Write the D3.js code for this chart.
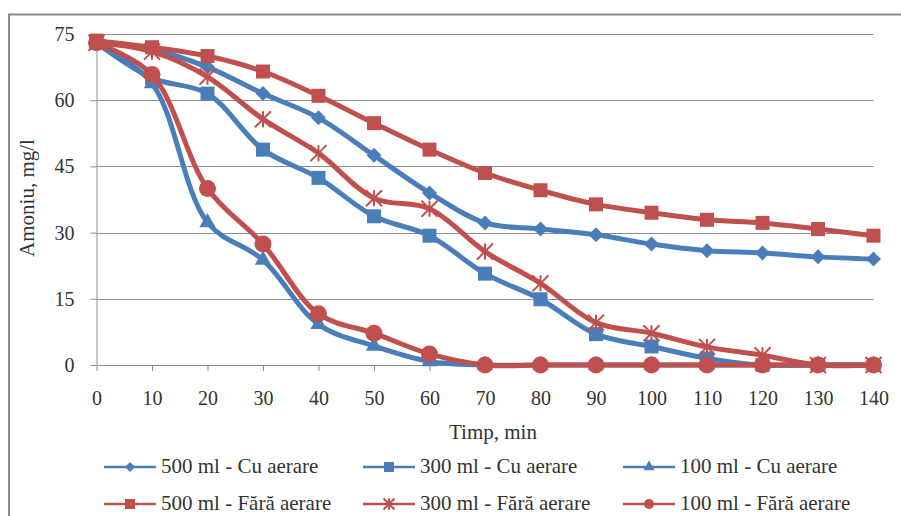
<!DOCTYPE html>
<html>
<head>
<meta charset="utf-8">
<script src="https://cdn.jsdelivr.net/npm/d3@7"></script>
<style>
  body { margin: 0; background: #fff; }
</style>
</head>
<body>
<div id="chart"></div>
<script>
// time in minutes (categories)
const times = [0, 10, 20, 30, 40, 50, 60, 70, 80, 90, 100, 110, 120, 130, 140]
const yTicks = [0, 15, 30, 45, 60, 75]

// amoniu, mg/l
const cu500   = [73, 71.5, 67.5, 61.5, 56, 47.5, 39, 32.2, 30.8, 29.5, 27.4, 25.9, 25.4, 24.5, 24]
const cu300   = [73, 65, 61.5, 48.8, 42.4, 33.7, 29.3, 20.7, 14.9, 7, 4.2, 1.5, 0, 0, 0]
const cu100   = [73, 63.8, 32.3, 23.8, 9.2, 4.3, 0.8, 0, 0, 0, 0, 0, 0, 0, 0]
const fara500 = [73.5, 72, 70, 66.5, 61, 54.8, 48.8, 43.5, 39.6, 36.4, 34.5, 32.9, 32.2, 30.8, 29.3]
const fara300 = [73, 71, 65.3, 55.7, 48, 37.8, 35.4, 25.7, 18.5, 9.6, 7.2, 4.1, 2.2, 0, 0]
const fara100 = [73, 65.8, 40, 27.4, 11.6, 7.2, 2.5, 0, 0, 0, 0, 0, 0, 0, 0]

const seriesNames = ["500 ml - Cu aerare", "300 ml - Cu aerare", "100 ml - Cu aerare",
                     "500 ml - Fără aerare", "300 ml - Fără aerare", "100 ml - Fără aerare"]
const seriesValues = [cu500, cu300, cu100, fara500, fara300, fara100]
const seriesMarkers = ["diamond", "square", "triangle", "square", "star", "circle"]

const blue = "#4a7ebb"
const red = "#c0504d"
const seriesColors = [blue, blue, blue, red, red, red]

const font = "'Liberation Serif', 'DejaVu Serif', serif"
const textColor = "#333"

const width = 901
const height = 516
const plotLeft = 96.5, plotRight = 873.5, plotTop = 34, plotBottom = 365

const svg = d3.select("#chart")
  .append("svg")
  .attr("width", width)
  .attr("height", height)

// outer chart border
svg.append("rect")
  .attr("x", 9).attr("y", 14.5)
  .attr("width", 905).attr("height", 520)
  .attr("fill", "none")
  .attr("stroke", "#8c8c8c")
  .attr("stroke-width", 2)

const xScale = d3.scaleLinear().domain([0, 140]).range([plotLeft, plotRight])
const yScale = d3.scaleLinear().domain([0, 75]).range([plotBottom, plotTop])

// horizontal gridlines
svg.append("g")
  .selectAll("line")
  .data(yTicks.filter(d => d > 0))
  .join("line")
  .attr("x1", plotLeft).attr("x2", plotRight)
  .attr("y1", d => Math.round(yScale(d)) + 0.5)
  .attr("y2", d => Math.round(yScale(d)) + 0.5)
  .attr("stroke", "#8e8e8e")
  .attr("stroke-width", 1)

// y axis
const yAxis = d3.axisLeft(yScale).tickValues(yTicks).tickSize(6).tickSizeOuter(0).tickPadding(16)
const gy = svg.append("g")
  .attr("transform", "translate(" + plotLeft + ",0)")
  .call(yAxis)
gy.select(".domain").attr("stroke", "#8e8e8e")
gy.selectAll(".tick line").attr("stroke", "#8e8e8e")
gy.selectAll(".tick text")
  .style("font-family", font)
  .style("font-size", "20px")
  .attr("fill", textColor)

// x axis
const xAxis = d3.axisBottom(xScale).tickValues(times).tickSize(6).tickSizeOuter(0).tickPadding(20)
const gx = svg.append("g")
  .attr("transform", "translate(0," + plotBottom + ")")
  .call(xAxis)
gx.select(".domain").attr("stroke", "#8e8e8e")
gx.selectAll(".tick line").attr("stroke", "#8e8e8e")
gx.selectAll(".tick text")
  .style("font-family", font)
  .style("font-size", "20px")
  .attr("fill", textColor)

// axis titles
svg.append("text")
  .attr("x", 493).attr("y", 439)
  .attr("text-anchor", "middle")
  .style("font-family", font)
  .style("font-size", "21px")
  .attr("fill", textColor)
  .text("Timp, min")

svg.append("text")
  .attr("transform", "translate(34,198) rotate(-90)")
  .attr("text-anchor", "middle")
  .style("font-family", font)
  .style("font-size", "21px")
  .attr("fill", textColor)
  .text("Amoniu, mg/l")

// marker drawing
function drawMarker(g, type, color, s) {
  if (type === "diamond") {
    g.append("path")
      .attr("d", d3.symbol(d3.symbolSquare, s * s * 0.5)())
      .attr("transform", "rotate(45)")
      .attr("fill", color)
  } else if (type === "square") {
    g.append("path").attr("d", d3.symbol(d3.symbolSquare, s * s)()).attr("fill", color)
  } else if (type === "triangle") {
    g.append("path").attr("d", d3.symbol(d3.symbolTriangle, s * s * 0.45)()).attr("fill", color)
  } else if (type === "circle") {
    g.append("circle").attr("r", s / 2).attr("fill", color)
  } else if (type === "star") {
    const h = s / 2
    g.append("path")
      .attr("d", `M${-h},${-h}L${h},${h}M${-h},${h}L${h},${-h}M0,${-h}L0,${h}`)
      .attr("stroke", color)
      .attr("stroke-width", 2)
      .attr("fill", "none")
  }
}

const line = d3.line()
  .x((d, i) => xScale(times[i]))
  .y(d => yScale(d))
  .curve(d3.curveCatmullRom.alpha(0.5))

const markerSizes = { diamond: 15, square: 14, triangle: 16, circle: 17, star: 16 }

seriesValues.forEach((vals, k) => {
  svg.append("path")
    .datum(vals)
    .attr("d", line)
    .attr("fill", "none")
    .attr("stroke", seriesColors[k])
    .attr("stroke-width", 5)
    .attr("stroke-linejoin", "round")

  svg.append("g")
    .selectAll("g")
    .data(vals)
    .join("g")
    .attr("transform", (d, i) => "translate(" + xScale(times[i]) + "," + yScale(d) + ")")
    .each(function() {
      drawMarker(d3.select(this), seriesMarkers[k], seriesColors[k], markerSizes[seriesMarkers[k]])
    })
})

// legend
const legendCols = [104, 363, 623]
const legendRows = [467, 504]
const legendMarkerSizes = { diamond: 10, square: 10, triangle: 11, circle: 10, star: 11 }

seriesNames.forEach((name, k) => {
  const lx = legendCols[k % 3]
  const ly = legendRows[Math.floor(k / 3)]
  const g = svg.append("g").attr("transform", "translate(" + lx + "," + ly + ")")
  g.append("line")
    .attr("x1", 0).attr("x2", 52)
    .attr("stroke", seriesColors[k])
    .attr("stroke-width", 2.5)
  const m = g.append("g").attr("transform", "translate(26,0)")
  drawMarker(m, seriesMarkers[k], seriesColors[k], legendMarkerSizes[seriesMarkers[k]])
  g.append("text")
    .attr("x", 57).attr("y", 6)
    .style("font-family", font)
    .style("font-size", "21px")
    .attr("fill", textColor)
    .text(name)
})
</script>
</body>
</html>
